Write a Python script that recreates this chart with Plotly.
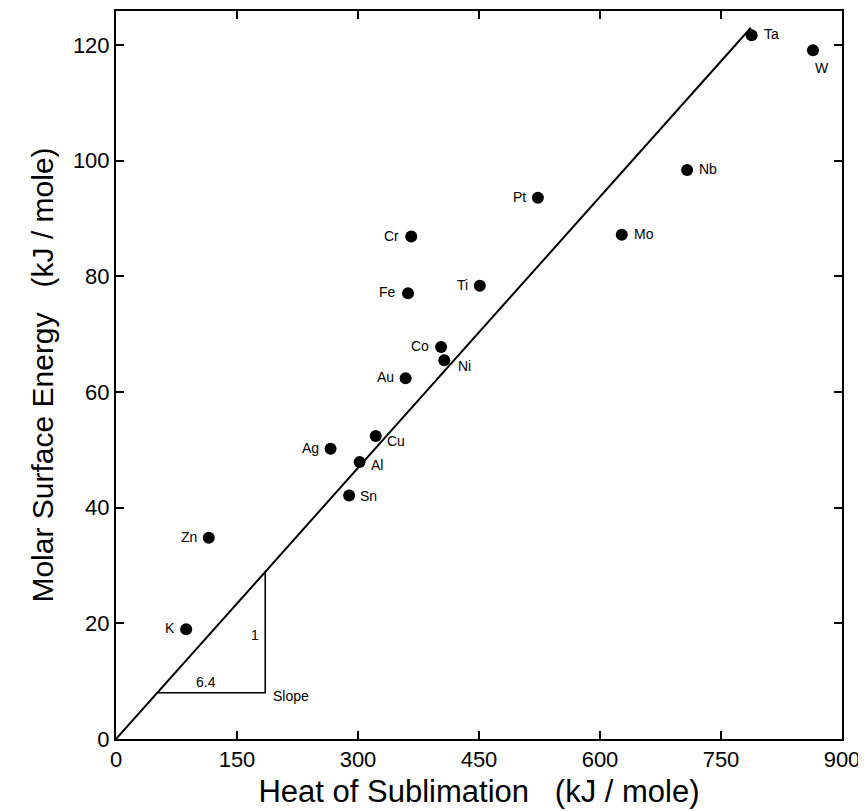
import plotly.graph_objects as go

# ---- data ----
elements = ["Ta", "W", "Nb", "Pt", "Mo", "Cr", "Ti", "Fe", "Co", "Ni",
            "Au", "Cu", "Ag", "Al", "Sn", "Zn", "K"]
heat_sublimation = [788, 864, 708, 523, 627, 366, 451, 362, 403, 407,
                    359, 322, 266, 302, 289, 115, 87]
surface_energy = [121.7, 119.1, 98.4, 93.6, 87.2, 86.9, 78.4, 77.1, 67.8, 65.5,
                  62.4, 52.4, 50.2, 47.9, 42.1, 34.8, 19.0]

fit_x = [0, 787]
fit_y = [0, 123]

slope_x = [51, 185, 185]
slope_y = [8, 8, 29]

x_ticks = [0, 150, 300, 450, 600, 750, 900]
y_ticks = [0, 20, 40, 60, 80, 100, 120]

# ---- label placement (style) ----
label_style = {
    "Ta": ("left", 10, 1), "W": ("center", 9, -18), "Nb": ("left", 10, 1),
    "Pt": ("right", -10, 1), "Mo": ("left", 10, 1), "Cr": ("right", -10, 1),
    "Ti": ("right", -10, 1), "Fe": ("right", -10, 1), "Co": ("right", -10, 1),
    "Ni": ("left", 12, -6), "Au": ("right", -10, 1), "Cu": ("left", 9, -5),
    "Ag": ("right", -10, 1), "Al": ("left", 9, -3), "Sn": ("left", 9, 0),
    "Zn": ("right", -10, 1), "K": ("right", -9, 1),
}

FONT = "Liberation Sans, Arial, sans-serif"

fig = go.Figure()
fig.add_trace(go.Scatter(x=fit_x, y=fit_y, mode="lines",
                         line=dict(color="black", width=2), hoverinfo="skip"))
fig.add_trace(go.Scatter(x=slope_x, y=slope_y, mode="lines",
                         line=dict(color="black", width=1.6), hoverinfo="skip"))
fig.add_trace(go.Scatter(x=heat_sublimation, y=surface_energy, mode="markers",
                         text=elements,
                         marker=dict(color="black", size=12)))

for el, xv, yv in zip(elements, heat_sublimation, surface_energy):
    anchor, dx, dy = label_style[el]
    fig.add_annotation(x=xv, y=yv, text=el, showarrow=False, xanchor=anchor,
                       yanchor="middle", xshift=dx, yshift=dy,
                       font=dict(family=FONT, size=14, color="black"))

fig.add_annotation(x=112, y=8, text="6.4", showarrow=False, yanchor="bottom",
                   yshift=1, font=dict(family=FONT, size=14, color="black"))
fig.add_annotation(x=185, y=18, text="1", showarrow=False, xanchor="right",
                   xshift=-4, font=dict(family=FONT, size=14, color="black"))
fig.add_annotation(x=185, y=8, text="Slope", showarrow=False, xanchor="left",
                   xshift=6, yshift=-3, font=dict(family=FONT, size=14, color="black"))

axis_common = dict(showline=True, linecolor="black", linewidth=2, mirror="ticks",
                   ticks="inside", ticklen=8, tickwidth=1.5, tickcolor="black",
                   showgrid=False, zeroline=False,
                   tickfont=dict(family=FONT, size=22, color="black"))

fig.update_layout(
    width=858, height=803,
    margin=dict(l=108, r=24, t=1, b=72),
    paper_bgcolor="white", plot_bgcolor="white",
    showlegend=False,
    xaxis=dict(range=[0, 900], tickvals=x_ticks,
               title=dict(text="Heat of Sublimation   (kJ / mole)", standoff=9,
                          font=dict(family=FONT, size=31, color="black")),
               **axis_common),
    yaxis=dict(range=[0, 125.9], tickvals=y_ticks,
               title=dict(text="Molar Surface Energy   (kJ / mole)", standoff=10,
                          font=dict(family=FONT, size=30, color="black")),
               **axis_common),
)

fig.write_html("out.html")
